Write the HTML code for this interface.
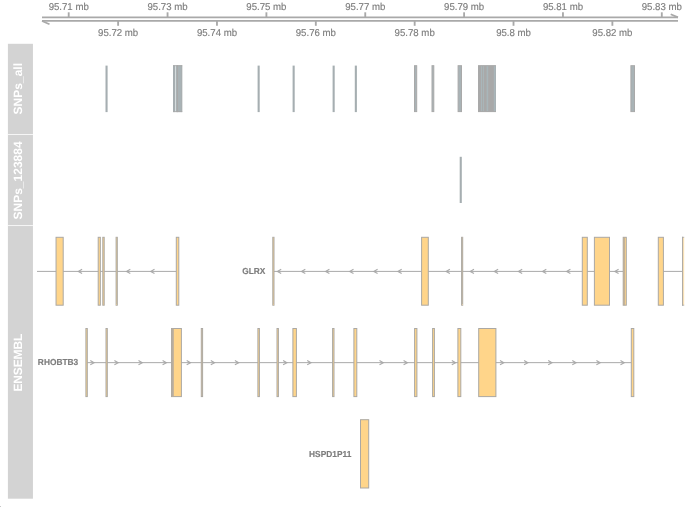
<!DOCTYPE html>
<html><head><meta charset="utf-8"><title>Gviz plot</title>
<style>
html,body{margin:0;padding:0;background:#fff;}
svg{display:block;}
text{font-family:"Liberation Sans",Arial,Helvetica,sans-serif;text-rendering:geometricPrecision;}
.ax{font-size:9.65px;fill:#7c7c7c;text-anchor:middle;stroke:#808080;stroke-width:0.15px;}
.tt{font-size:12px;font-weight:bold;fill:#fff;text-anchor:middle;}
.gl{font-size:8.35px;font-weight:bold;fill:#7c7c7c;text-anchor:end;stroke:#808080;stroke-width:0.15px;}
</style></head><body>
<svg width="685" height="507" viewBox="0 0 685 507">
<rect x="0" y="0" width="685" height="507" fill="#ffffff"/>
<g>
<rect x="7.9" y="43.8" width="25.050000000000004" height="454.9" fill="#d3d3d3"/>
<rect x="7.9" y="134.0" width="25.050000000000004" height="1" fill="#ffffff" fill-opacity="0.8"/>
<rect x="7.9" y="225.05" width="25.050000000000004" height="1" fill="#ffffff" fill-opacity="0.8"/>
<text class="tt" transform="translate(22.25,88.7) rotate(-90)">SNPs_all</text>
<text class="tt" transform="translate(22.25,180.45) rotate(-90)">SNPs_123884</text>
<text class="tt" letter-spacing="-0.14" transform="translate(22.25,362.75) rotate(-90)">ENSEMBL</text>
</g>
<g stroke="#a9a9a9" stroke-width="1.7" fill="none" stroke-linecap="butt">
<line x1="42.0" y1="17.35" x2="678.0" y2="17.35"/>
<line x1="42.0" y1="20.95" x2="678.0" y2="20.95"/>
<line x1="678.0" y1="17.35" x2="670.7" y2="14.250000000000002"/>
<line x1="42.0" y1="20.95" x2="49.5" y2="24.349999999999998"/>
<line x1="68.70" y1="17.35" x2="68.70" y2="12.3" stroke-width="1.85"/>
<line x1="118.12" y1="20.95" x2="118.12" y2="25.8" stroke-width="1.85"/>
<line x1="167.55" y1="17.35" x2="167.55" y2="12.3" stroke-width="1.85"/>
<line x1="216.97" y1="20.95" x2="216.97" y2="25.8" stroke-width="1.85"/>
<line x1="266.40" y1="17.35" x2="266.40" y2="12.3" stroke-width="1.85"/>
<line x1="315.82" y1="20.95" x2="315.82" y2="25.8" stroke-width="1.85"/>
<line x1="365.25" y1="17.35" x2="365.25" y2="12.3" stroke-width="1.85"/>
<line x1="414.67" y1="20.95" x2="414.67" y2="25.8" stroke-width="1.85"/>
<line x1="464.10" y1="17.35" x2="464.10" y2="12.3" stroke-width="1.85"/>
<line x1="513.52" y1="20.95" x2="513.52" y2="25.8" stroke-width="1.85"/>
<line x1="562.95" y1="17.35" x2="562.95" y2="12.3" stroke-width="1.85"/>
<line x1="612.38" y1="20.95" x2="612.38" y2="25.8" stroke-width="1.85"/>
<line x1="661.80" y1="17.35" x2="661.80" y2="12.3" stroke-width="1.85"/>
</g>
<text class="ax" transform="translate(68.70,9.65) scale(1,1.03)">95.71 mb</text>
<text class="ax" transform="translate(118.12,36.05) scale(1,1.03)">95.72 mb</text>
<text class="ax" transform="translate(167.55,9.65) scale(1,1.03)">95.73 mb</text>
<text class="ax" transform="translate(216.97,36.05) scale(1,1.03)">95.74 mb</text>
<text class="ax" transform="translate(266.40,9.65) scale(1,1.03)">95.75 mb</text>
<text class="ax" transform="translate(315.82,36.05) scale(1,1.03)">95.76 mb</text>
<text class="ax" transform="translate(365.25,9.65) scale(1,1.03)">95.77 mb</text>
<text class="ax" transform="translate(414.67,36.05) scale(1,1.03)">95.78 mb</text>
<text class="ax" transform="translate(464.10,9.65) scale(1,1.03)">95.79 mb</text>
<text class="ax" transform="translate(513.52,36.05) scale(1,1.03)">95.8 mb</text>
<text class="ax" transform="translate(562.95,9.65) scale(1,1.03)">95.81 mb</text>
<text class="ax" transform="translate(612.38,36.05) scale(1,1.03)">95.82 mb</text>
<text class="ax" transform="translate(661.80,9.65) scale(1,1.03)">95.83 mb</text>
<g>
<rect x="105.50" y="65.6" width="2.10" height="46.50" fill="#a6aeb1"/>
<rect x="257.60" y="65.6" width="2.10" height="46.50" fill="#a6aeb1"/>
<rect x="292.60" y="65.6" width="2.10" height="46.50" fill="#a6aeb1"/>
<rect x="332.60" y="65.6" width="2.10" height="46.50" fill="#a6aeb1"/>
<rect x="354.80" y="65.6" width="2.10" height="46.50" fill="#a6aeb1"/>
<rect x="414.50" y="65.70" width="2.20" height="45.90" fill="#a9b3b6" stroke="#a9a9a9" stroke-width="1.0"/>
<rect x="432.00" y="65.70" width="1.80" height="45.90" fill="#a9b3b6" stroke="#a9a9a9" stroke-width="1.0"/>
<rect x="458.10" y="65.70" width="3.40" height="45.90" fill="#a9b3b6" stroke="#a9a9a9" stroke-width="1.0"/>
<rect x="478.50" y="65.70" width="17.00" height="45.90" fill="#a9b3b6" stroke="#a9a9a9" stroke-width="1.0"/>
<rect x="630.90" y="65.70" width="3.60" height="45.90" fill="#a9b3b6" stroke="#a9a9a9" stroke-width="1.0"/>
<rect x="478.5" y="65.7" width="17" height="45.89999999999999" fill="#a9a9a9"/>
<rect x="481.0" y="66.2" width="1.00" height="44.89999999999999" fill="#a9b6ba"/>
<rect x="482.9" y="66.2" width="1.00" height="44.89999999999999" fill="#a9b6ba"/>
<rect x="486.6" y="66.2" width="1.60" height="44.89999999999999" fill="#a9b6ba"/>
<rect x="493.8" y="66.2" width="1.90" height="44.89999999999999" fill="#a9b6ba"/>
<rect x="173.0" y="65.2" width="2.1" height="46.89999999999999" fill="#a6aeb1"/>
<rect x="175.6" y="65.2" width="6.6" height="46.89999999999999" fill="#a9b3b6"/>
<rect x="176.9" y="65.2" width="1.1" height="46.89999999999999" fill="#a9a9a9"/>
<rect x="181.5" y="65.2" width="0.7" height="46.89999999999999" fill="#a9a9a9" fill-opacity="0.8"/>
<rect x="173.0" y="65.2" width="9.2" height="1" fill="#a9a9a9" fill-opacity="0.85"/>
<rect x="173.0" y="111.1" width="9.2" height="1" fill="#a9a9a9" fill-opacity="0.85"/>
<rect x="459.7" y="156.8" width="2.1" height="46.2" fill="#a6aeb1"/>
</g>
<g>
<line x1="37.00" y1="271.40" x2="176.50" y2="271.40" stroke="#a9a9a9" stroke-width="1"/>
<polyline points="82.10,269.25 78.30,271.40 82.10,273.55" fill="none" stroke="#a9a9a9" stroke-width="1.12"/>
<polyline points="130.30,269.25 126.50,271.40 130.30,273.55" fill="none" stroke="#a9a9a9" stroke-width="1.12"/>
<polyline points="154.50,269.25 150.70,271.40 154.50,273.55" fill="none" stroke="#a9a9a9" stroke-width="1.12"/>
<line x1="273.00" y1="271.40" x2="623.00" y2="271.40" stroke="#a9a9a9" stroke-width="1"/>
<polyline points="281.20,269.25 277.40,271.40 281.20,273.55" fill="none" stroke="#a9a9a9" stroke-width="1.12"/>
<polyline points="305.30,269.25 301.50,271.40 305.30,273.55" fill="none" stroke="#a9a9a9" stroke-width="1.12"/>
<polyline points="329.40,269.25 325.60,271.40 329.40,273.55" fill="none" stroke="#a9a9a9" stroke-width="1.12"/>
<polyline points="353.50,269.25 349.70,271.40 353.50,273.55" fill="none" stroke="#a9a9a9" stroke-width="1.12"/>
<polyline points="377.60,269.25 373.80,271.40 377.60,273.55" fill="none" stroke="#a9a9a9" stroke-width="1.12"/>
<polyline points="401.70,269.25 397.90,271.40 401.70,273.55" fill="none" stroke="#a9a9a9" stroke-width="1.12"/>
<polyline points="449.90,269.25 446.10,271.40 449.90,273.55" fill="none" stroke="#a9a9a9" stroke-width="1.12"/>
<polyline points="474.00,269.25 470.20,271.40 474.00,273.55" fill="none" stroke="#a9a9a9" stroke-width="1.12"/>
<polyline points="498.10,269.25 494.30,271.40 498.10,273.55" fill="none" stroke="#a9a9a9" stroke-width="1.12"/>
<polyline points="522.20,269.25 518.40,271.40 522.20,273.55" fill="none" stroke="#a9a9a9" stroke-width="1.12"/>
<polyline points="546.30,269.25 542.50,271.40 546.30,273.55" fill="none" stroke="#a9a9a9" stroke-width="1.12"/>
<polyline points="570.40,269.25 566.60,271.40 570.40,273.55" fill="none" stroke="#a9a9a9" stroke-width="1.12"/>
<polyline points="618.60,269.25 614.80,271.40 618.60,273.55" fill="none" stroke="#a9a9a9" stroke-width="1.12"/>
<line x1="663.00" y1="271.40" x2="683.00" y2="271.40" stroke="#a9a9a9" stroke-width="1"/>
<rect x="56.05" y="237.30" width="7.15" height="67.90" fill="#ffd58a" stroke="#aba8a4" stroke-width="1.0"/>
<rect x="98.20" y="237.30" width="2.15" height="67.90" fill="#ffd58a" stroke="#aba8a4" stroke-width="1.0"/>
<rect x="102.80" y="237.30" width="1.40" height="67.90" fill="#ffd58a" stroke="#aba8a4" stroke-width="1.0"/>
<rect x="116.10" y="237.30" width="1.20" height="67.90" fill="#ffd58a" stroke="#aba8a4" stroke-width="1.0"/>
<rect x="176.30" y="237.30" width="2.50" height="67.90" fill="#ffd58a" stroke="#aba8a4" stroke-width="1.0"/>
<rect x="272.80" y="237.30" width="1.20" height="67.90" fill="#ffd58a" stroke="#aba8a4" stroke-width="1.0"/>
<rect x="421.60" y="237.30" width="6.70" height="67.90" fill="#ffd58a" stroke="#aba8a4" stroke-width="1.0"/>
<rect x="461.60" y="237.30" width="1.10" height="67.90" fill="#ffd58a" stroke="#aba8a4" stroke-width="1.0"/>
<rect x="582.30" y="237.30" width="5.00" height="67.90" fill="#ffd58a" stroke="#aba8a4" stroke-width="1.0"/>
<rect x="594.40" y="237.30" width="15.10" height="67.90" fill="#ffd58a" stroke="#aba8a4" stroke-width="1.0"/>
<rect x="623.20" y="237.30" width="3.10" height="67.90" fill="#ffd58a" stroke="#aba8a4" stroke-width="1.0"/>
<rect x="658.30" y="237.30" width="5.10" height="67.90" fill="#ffd58a" stroke="#aba8a4" stroke-width="1.0"/>
<rect x="683" y="237.3" width="1.2" height="67.89999999999998" fill="#ffe6b8"/>
<rect x="682" y="236.8" width="1.1" height="68.89999999999998" fill="#b0aca6"/>
<rect x="623.3" y="237.3" width="1.6" height="67.89999999999998" fill="#b7ab9a" fill-opacity="0.9"/>
<rect x="682" y="236.8" width="2.2" height="1" fill="#a9a9a9" fill-opacity="0.8"/>
<rect x="682" y="304.7" width="2.2" height="1" fill="#a9a9a9" fill-opacity="0.8"/>
<text class="gl" transform="translate(265.4,274.2) scale(1,1.05)">GLRX</text>
</g>
<g>
<line x1="87.00" y1="362.65" x2="631.50" y2="362.65" stroke="#a9a9a9" stroke-width="1"/>
<polyline points="90.30,360.50 94.10,362.65 90.30,364.80" fill="none" stroke="#a9a9a9" stroke-width="1.12"/>
<polyline points="114.40,360.50 118.20,362.65 114.40,364.80" fill="none" stroke="#a9a9a9" stroke-width="1.12"/>
<polyline points="138.50,360.50 142.30,362.65 138.50,364.80" fill="none" stroke="#a9a9a9" stroke-width="1.12"/>
<polyline points="162.60,360.50 166.40,362.65 162.60,364.80" fill="none" stroke="#a9a9a9" stroke-width="1.12"/>
<polyline points="186.70,360.50 190.50,362.65 186.70,364.80" fill="none" stroke="#a9a9a9" stroke-width="1.12"/>
<polyline points="210.80,360.50 214.60,362.65 210.80,364.80" fill="none" stroke="#a9a9a9" stroke-width="1.12"/>
<polyline points="234.90,360.50 238.70,362.65 234.90,364.80" fill="none" stroke="#a9a9a9" stroke-width="1.12"/>
<polyline points="283.10,360.50 286.90,362.65 283.10,364.80" fill="none" stroke="#a9a9a9" stroke-width="1.12"/>
<polyline points="307.20,360.50 311.00,362.65 307.20,364.80" fill="none" stroke="#a9a9a9" stroke-width="1.12"/>
<polyline points="379.50,360.50 383.30,362.65 379.50,364.80" fill="none" stroke="#a9a9a9" stroke-width="1.12"/>
<polyline points="403.60,360.50 407.40,362.65 403.60,364.80" fill="none" stroke="#a9a9a9" stroke-width="1.12"/>
<polyline points="451.80,360.50 455.60,362.65 451.80,364.80" fill="none" stroke="#a9a9a9" stroke-width="1.12"/>
<polyline points="500.00,360.50 503.80,362.65 500.00,364.80" fill="none" stroke="#a9a9a9" stroke-width="1.12"/>
<polyline points="524.10,360.50 527.90,362.65 524.10,364.80" fill="none" stroke="#a9a9a9" stroke-width="1.12"/>
<polyline points="548.20,360.50 552.00,362.65 548.20,364.80" fill="none" stroke="#a9a9a9" stroke-width="1.12"/>
<polyline points="572.30,360.50 576.10,362.65 572.30,364.80" fill="none" stroke="#a9a9a9" stroke-width="1.12"/>
<polyline points="596.40,360.50 600.20,362.65 596.40,364.80" fill="none" stroke="#a9a9a9" stroke-width="1.12"/>
<polyline points="620.50,360.50 624.30,362.65 620.50,364.80" fill="none" stroke="#a9a9a9" stroke-width="1.12"/>
<rect x="85.90" y="328.50" width="1.40" height="68.10" fill="#ffd58a" stroke="#aba8a4" stroke-width="1.0"/>
<rect x="106.00" y="328.50" width="1.30" height="68.10" fill="#ffd58a" stroke="#aba8a4" stroke-width="1.0"/>
<rect x="171.50" y="328.50" width="9.90" height="68.10" fill="#ffd58a" stroke="#aba8a4" stroke-width="1.0"/>
<rect x="201.30" y="328.50" width="1.30" height="68.10" fill="#ffd58a" stroke="#aba8a4" stroke-width="1.0"/>
<rect x="257.90" y="328.50" width="1.50" height="68.10" fill="#ffd58a" stroke="#aba8a4" stroke-width="1.0"/>
<rect x="277.00" y="328.50" width="1.40" height="68.10" fill="#ffd58a" stroke="#aba8a4" stroke-width="1.0"/>
<rect x="292.90" y="328.50" width="3.50" height="68.10" fill="#ffd58a" stroke="#aba8a4" stroke-width="1.0"/>
<rect x="332.60" y="328.50" width="1.40" height="68.10" fill="#ffd58a" stroke="#aba8a4" stroke-width="1.0"/>
<rect x="353.90" y="328.50" width="2.90" height="68.10" fill="#ffd58a" stroke="#aba8a4" stroke-width="1.0"/>
<rect x="414.60" y="328.50" width="2.30" height="68.10" fill="#ffd58a" stroke="#aba8a4" stroke-width="1.0"/>
<rect x="432.60" y="328.50" width="1.80" height="68.10" fill="#ffd58a" stroke="#aba8a4" stroke-width="1.0"/>
<rect x="457.90" y="328.50" width="2.90" height="68.10" fill="#ffd58a" stroke="#aba8a4" stroke-width="1.0"/>
<rect x="478.70" y="328.50" width="17.20" height="68.10" fill="#ffd58a" stroke="#aba8a4" stroke-width="1.0"/>
<rect x="631.30" y="328.50" width="2.50" height="68.10" fill="#ffd58a" stroke="#aba8a4" stroke-width="1.0"/>
<rect x="171.5" y="328.5" width="2.3" height="68.10000000000002" fill="#b8ad9e"/>
<text class="gl" transform="translate(78.2,365.2) scale(1,1.05)">RHOBTB3</text>
</g>
<g>
<rect x="360.50" y="419.70" width="8.20" height="68.30" fill="#ffd58a" stroke="#aba8a4" stroke-width="1.0"/>
<text class="gl" transform="translate(351.3,456.8) scale(1,1.05)">HSPD1P11</text>
</g>
<rect x="0" y="506" width="1" height="1" fill="#c8c8c8"/>
</svg>
</body></html>
